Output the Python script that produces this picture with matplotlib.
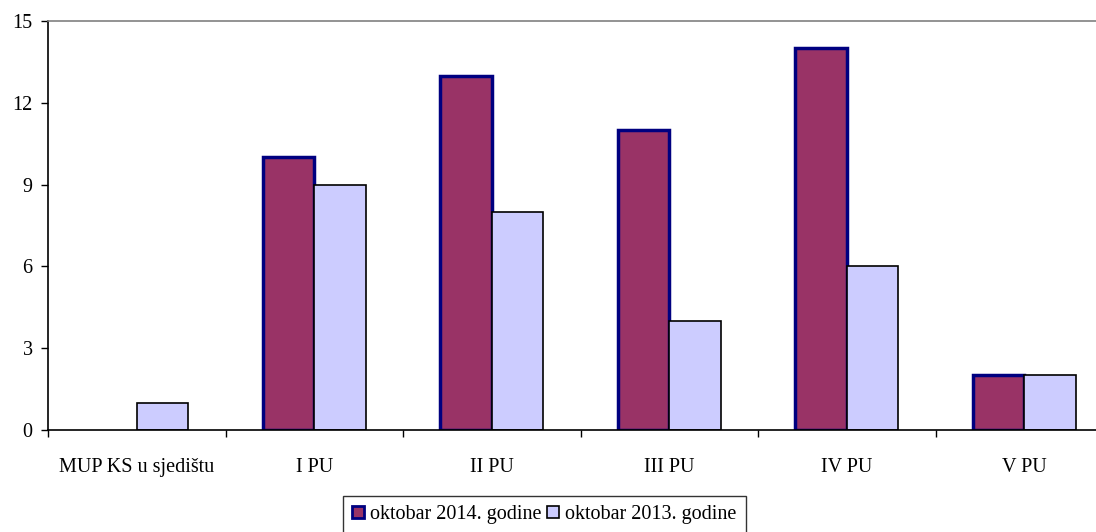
import matplotlib.pyplot as plt
from matplotlib.patches import Patch
import numpy as np

categories = ['MUP KS u sjedištu', 'I PU', 'II PU', 'III PU', 'IV PU', 'V PU']
val_2014 = [0, 10, 13, 11, 14, 2]
val_2013 = [1, 9, 8, 4, 6, 2]
series_names = ['oktobar 2014. godine', 'oktobar 2013. godine']

plt.rcParams['font.family'] = ['Liberation Serif', 'DejaVu Serif']
fs = 14.5

fig = plt.figure(figsize=(10.96, 5.32), dpi=100)
ax = fig.add_axes([48 / 1096, 1 - 430 / 532, 1065 / 1096, 409 / 532])

x = np.arange(len(categories)) + 0.5
w = 0.29
b1 = ax.bar(x - w / 2, val_2014, w, color='#993366', edgecolor='#000080', linewidth=2.5)
b2 = ax.bar(x + w / 2, val_2013, w, color='#CCCCFF', edgecolor='black', linewidth=1.2)
# zero bars are not drawn
for bar, v in zip(b1, val_2014):
    if v == 0:
        bar.set_visible(False)

ax.set_xlim(0, len(categories))
ax.set_ylim(0, 15)
ax.set_yticks([0, 3, 6, 9, 12, 15])
ax.set_xticks(np.arange(len(categories) + 1))
ax.set_xticklabels([])
ax.set_xticks(x, minor=True)
ax.set_xticklabels(categories, minor=True, fontsize=fs)
ax.tick_params(axis='x', which='minor', length=0, pad=20)
ax.tick_params(axis='x', which='major', direction='out', length=5, width=1)
ax.tick_params(axis='y', direction='out', length=5, width=1, labelsize=fs, pad=6)

ax.spines['right'].set_visible(False)
ax.spines['top'].set_color('#808080')
ax.spines['top'].set_linewidth(1.2)
ax.spines['left'].set_linewidth(1.2)
ax.spines['bottom'].set_linewidth(1.2)

handles = [Patch(facecolor='#993366', edgecolor='#000080', linewidth=2),
           Patch(facecolor='#CCCCFF', edgecolor='black', linewidth=1.2)]
leg = fig.legend(handles, series_names, loc='lower center', bbox_to_anchor=(0.4965, -0.002),
                 ncol=2, frameon=True, fancybox=False, edgecolor='black', fontsize=fs,
                 handlelength=0.6, handleheight=0.6, handletextpad=0.3, columnspacing=0.3,
                 borderpad=0.45, borderaxespad=0.0)
leg.get_frame().set_linewidth(1.0)

fig.savefig('out.png', dpi=100)
